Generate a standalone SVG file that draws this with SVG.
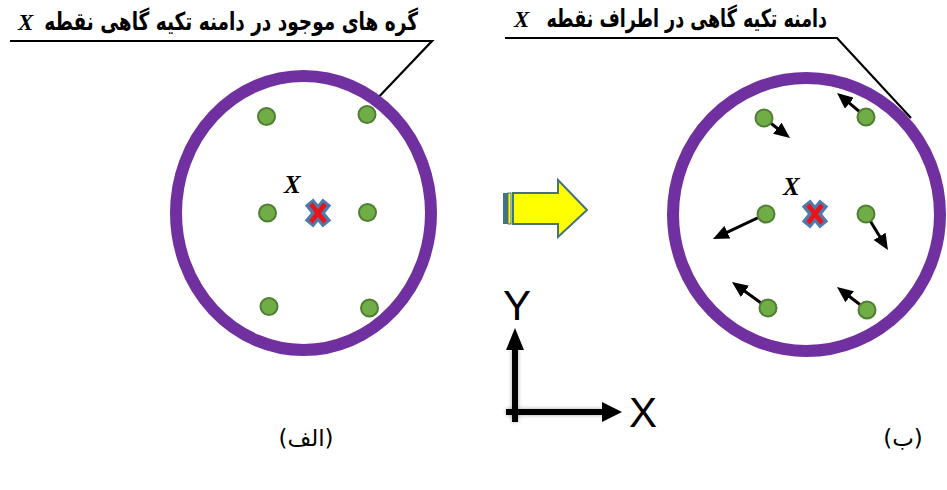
<svg xmlns="http://www.w3.org/2000/svg" width="947" height="490" viewBox="0 0 947 490">
<style>
.ring{fill:none;stroke:#7030a0;stroke-width:12}
.node{fill:#70ad47;stroke:#507e32;stroke-width:2}
.lead{fill:none;stroke:#000;stroke-width:2.2}
.fa{font-family:"DejaVu Sans",sans-serif;font-weight:bold;font-size:25px;fill:#000}
.xl{font-family:"Liberation Serif",serif;font-style:italic;font-weight:bold;font-size:23px;fill:#000}
.xc{font-family:"Liberation Serif",serif;font-style:italic;font-weight:bold;font-size:25px;fill:#000}
.cap{font-family:"DejaVu Sans",sans-serif;font-size:23px;fill:#000}
.mv{stroke:#000;stroke-width:3;marker-end:url(#ah)}
.crossb{stroke:#4f7baa;stroke-width:11}
.crossr{stroke:#e8141c;stroke-width:4.5}
.ax{stroke:#000;stroke-width:6}
.axl{font-family:"Liberation Sans",sans-serif;font-size:42px;fill:#000}
</style>
<defs>
<marker id="ah" viewBox="0 0 16 14" refX="4" refY="7" markerWidth="16" markerHeight="14" markerUnits="userSpaceOnUse" orient="auto">
<path d="M0,0 L16,7 L0,14 z" fill="#000"/>
</marker>
<g id="cross">
<line class="crossb" x1="-9" y1="-11" x2="9" y2="11"/>
<line class="crossb" x1="9" y1="-11" x2="-9" y2="11"/>
<line class="crossr" x1="-7" y1="-9" x2="7" y2="9"/>
<line class="crossr" x1="7" y1="-9" x2="-7" y2="9"/>
</g>
<filter id="sh" x="-20%" y="-20%" width="140%" height="140%">
<feGaussianBlur stdDeviation="2"/>
</filter>
</defs>
<rect width="947" height="490" fill="#fff"/>

<g id="connectors">
<polyline class="lead" points="10,41 432,41 373,103"/>
<polyline class="lead" points="505,38 837,38 911,118"/>
<line class="mv" x1="764" y1="118" x2="780.5" y2="130.7"/>
<line class="mv" x1="866" y1="117" x2="846.3" y2="100.7"/>
<line class="mv" x1="766" y1="214" x2="723.8" y2="233.9"/>
<line class="mv" x1="866" y1="214" x2="881.7" y2="239.8"/>
<line class="mv" x1="768" y1="308" x2="741.7" y2="289"/>
<line class="mv" x1="867" y1="310" x2="846.5" y2="294.3"/>
</g>

<g id="label-left">
<text class="xl" x="18" y="30">X</text>
<text class="fa" transform="translate(418,30) scale(0.74,1)" text-anchor="end">گره های موجود در دامنه تکیه گاهی نقطه</text>
</g>
<g id="label-right">
<text class="xl" x="514" y="27">X</text>
<text class="fa" transform="translate(827,27) scale(0.7,1)" text-anchor="end">دامنه تکیه گاهی در اطراف نقطه</text>
</g>

<g id="domain-left">
<ellipse class="ring" cx="303.5" cy="213" rx="127.5" ry="137"/>
<text class="xc" x="284" y="193">X</text>
<use href="#cross" x="318" y="213"/>
<circle class="node" cx="266.5" cy="116.5" r="8.5"/>
<circle class="node" cx="367" cy="114.5" r="8.5"/>
<circle class="node" cx="267.5" cy="213" r="8.5"/>
<circle class="node" cx="367.5" cy="212.5" r="8.5"/>
<circle class="node" cx="269" cy="306.5" r="8.5"/>
<circle class="node" cx="369.5" cy="308" r="8.5"/>
</g>

<g id="domain-right">
<ellipse class="ring" cx="806.5" cy="214.5" rx="133.5" ry="136.5"/>
<text class="xc" x="783" y="195">X</text>
<use href="#cross" x="815" y="214"/>
<circle class="node" cx="764" cy="118" r="8.5"/>
<circle class="node" cx="866" cy="117" r="8.5"/>
<circle class="node" cx="766" cy="214" r="8.5"/>
<circle class="node" cx="866" cy="214" r="8.5"/>
<circle class="node" cx="768" cy="308" r="8.5"/>
<circle class="node" cx="867" cy="310" r="8.5"/>
</g>

<g id="transition-arrow">
<path d="M513,193 L558,193 L558,180 L587,210 L558,237 L558,224 L513,224 z" fill="#ffff00" stroke="#44727f" stroke-width="2"/>
<rect x="503" y="193" width="5" height="31" fill="#44727f"/>
<rect x="508" y="193" width="3" height="31" fill="#ffff00" stroke="#44727f" stroke-width="1"/>
</g>

<g id="axes">
<g filter="url(#sh)" opacity="0.35">
<line class="ax" x1="515" y1="422" x2="515" y2="348" stroke="#666"/>
<line class="ax" x1="506" y1="412" x2="604" y2="412" stroke="#666"/>
</g>
<line class="ax" x1="515" y1="422" x2="515" y2="348"/>
<polygon points="506,350 515,328 524,350" fill="#000"/>
<line class="ax" x1="506" y1="412" x2="604" y2="412"/>
<polygon points="602,402 622,412 602,422" fill="#000"/>
<text class="axl" x="517" y="320" text-anchor="middle">Y</text>
<text class="axl" x="629" y="427">X</text>
</g>

<g id="captions">
<text class="cap" x="306" y="446" text-anchor="middle">(الف)</text>
<text class="cap" x="903" y="446" text-anchor="middle">(ب)</text>
</g>
</svg>
